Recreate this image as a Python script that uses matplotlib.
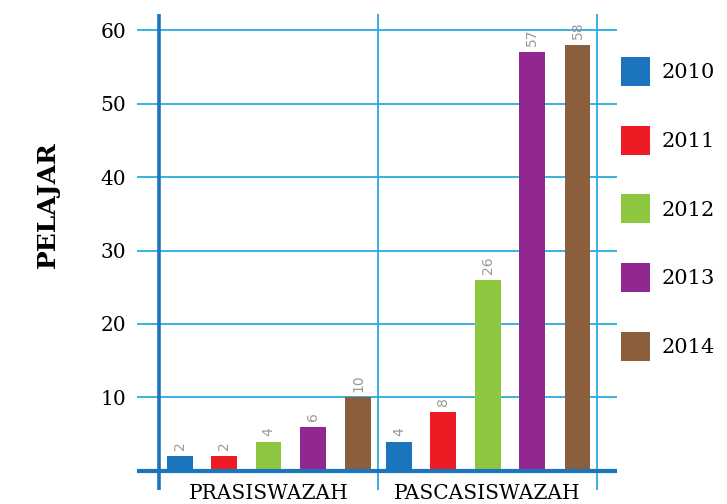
import numpy as np
import matplotlib
matplotlib.use("Agg")
import matplotlib.pyplot as plt

# data
categories = ["PRASISWAZAH", "PASCASISWAZAH"]
years = ["2010", "2011", "2012", "2013", "2014"]
counts = {
    "2010": [2, 4],
    "2011": [2, 8],
    "2012": [4, 26],
    "2013": [6, 57],
    "2014": [10, 58],
}
colors = ["#1c75bc", "#ed1c24", "#8dc63f", "#92278f", "#8b5e3c"]
yticks = [10, 20, 30, 40, 50, 60]

grid_col = "#29abe2"
axis_col = "#1b75bc"
serif = "DejaVu Serif"

fig = plt.figure(figsize=(7.27, 5.04), dpi=100)
ax = fig.add_axes([137 / 727, 14 / 504, 480 / 727, 476 / 504])

offsets = np.array([0.095, 0.297, 0.5, 0.703, 0.91])
width = 0.118
handles = []
for i, yr in enumerate(years):
    xs = np.arange(len(categories)) + offsets[i]
    bars = ax.bar(xs, counts[yr], width, color=colors[i], zorder=3, label=yr)
    handles.append(bars)
    for x, v in zip(xs, counts[yr]):
        ax.text(x, v + 0.8, str(v), rotation=90, ha="center", va="bottom",
                fontsize=10, color="#999999", zorder=4)

ax.set_xlim(-0.1, 2.09)
ax.set_ylim(-2.6, 62.2)

for y in yticks:
    ax.axhline(y, color=grid_col, lw=1.3, zorder=1)
ax.axhline(0, color=axis_col, lw=3, zorder=5)
ax.axvline(0, color=axis_col, lw=2.6, zorder=5)
for x in [1, 2]:
    ax.axvline(x, color=grid_col, lw=1.3, zorder=1)

for s in ax.spines.values():
    s.set_visible(False)

ax.set_yticks(yticks)
ax.set_yticklabels([str(t) for t in yticks], fontsize=14.5, family=serif)
ax.set_xticks([0.5, 1.5])
ax.set_xticklabels(categories, fontsize=14.5, family=serif)
ax.tick_params(axis="both", length=0)
ax.tick_params(axis="y", pad=8)
ax.tick_params(axis="x", pad=-4)

fig.text(48 / 727, 1 - 205 / 504, "PELAJAR", rotation=90, ha="center",
         va="center", fontsize=18, fontweight="bold", family=serif)

ax.legend(handles=handles, labels=years, loc="upper left",
          bbox_to_anchor=(621 / 727, 1 - 57 / 504), bbox_transform=fig.transFigure,
          frameon=False, borderpad=0, borderaxespad=0,
          handlelength=1.4, handleheight=1.77, handletextpad=0.55,
          labelspacing=1.9, prop={"family": serif, "size": 15})

fig.savefig("out.png", dpi=100)
